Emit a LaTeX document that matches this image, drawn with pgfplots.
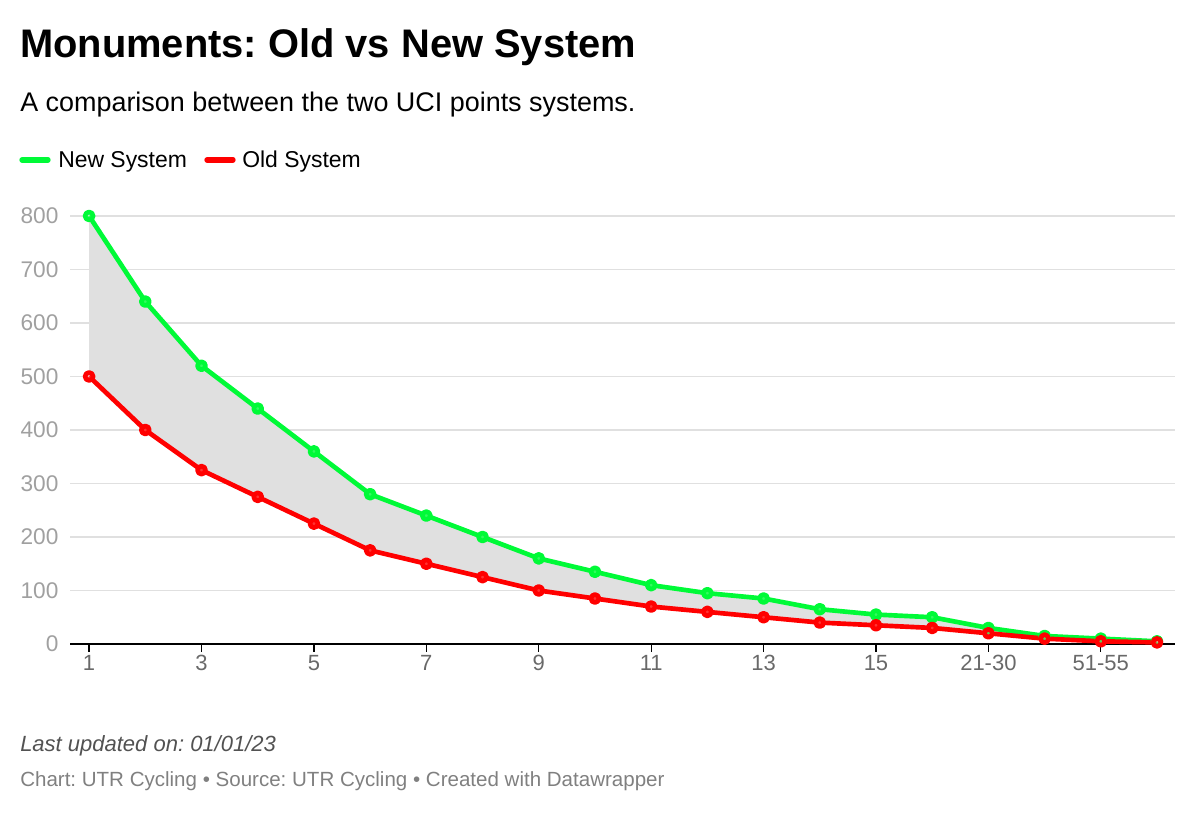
\documentclass[border=0pt]{standalone}
\usepackage{fontspec}
\setmainfont{Liberation Sans}
\usepackage{pgfplots}
\pgfplotsset{compat=1.18}
\usepgfplotslibrary{fillbetween}
\frenchspacing

\definecolor{newc}{RGB}{0,250,55}
\definecolor{oldc}{RGB}{255,0,0}
\definecolor{gridc}{RGB}{224,224,224}
\definecolor{bandc}{RGB}{224,224,224}
\definecolor{ylab}{RGB}{160,160,160}
\definecolor{xlab}{RGB}{105,105,105}

% rank index, new points, old points
\pgfplotstableread{
idx new old
0  800 500
1  640 400
2  520 325
3  440 275
4  360 225
5  280 175
6  240 150
7  200 125
8  160 100
9  135 85
10 110 70
11 95  60
12 85  50
13 65  40
14 55  35
15 50  30
16 30  20
17 15  10
18 10  5
19 5   3
}\pts

\begin{document}
\begin{tikzpicture}
\begin{scope}[x=0.75pt,y=0.75pt]
\path[use as bounding box] (0,0) rectangle (1200,813);

\node[anchor=base west,inner sep=0pt,font=\fontsize{29.9}{34}\selectfont\bfseries] at (20,813-58) {Monuments: Old vs New System};
\node[anchor=base west,inner sep=0pt,font=\fontsize{20.2}{23}\selectfont] at (20,813-112) {A comparison between the two UCI points systems.};

% legend keys
\draw[newc,line width=4pt,line cap=round] (22,813-160) -- (48,813-160);
\node[anchor=base west,inner sep=0pt,font=\fontsize{17.2}{20}\selectfont] at (58,813-168) {New System};
\draw[oldc,line width=4pt,line cap=round] (207,813-160) -- (233,813-160);
\node[anchor=base west,inner sep=0pt,font=\fontsize{17.2}{20}\selectfont] at (242,813-168) {Old System};

\node[anchor=base west,inner sep=0pt,font=\fontsize{16.5}{19}\selectfont\itshape,text=black!68] at (20,813-752) {Last updated on: 01/01/23};
\node[anchor=base west,inner sep=0pt,font=\fontsize{15.4}{18}\selectfont,text=black!50] at (20,813-787) {Chart: UTR Cycling • Source: UTR Cycling • Created with Datawrapper};
\end{scope}

\begin{axis}[
  at={(52.5pt,126.75pt)}, anchor=south west,
  scale only axis, width=828.75pt, height=321pt,
  xmin=-0.34, xmax=19.32, ymin=0, ymax=800,
  axis x line*=bottom, axis y line*=left,
  y axis line style={draw=none},
  x axis line style={black,line width=1.2pt},
  ytick={0,100,...,800},
  ymajorgrids, grid style={gridc,line width=0.9pt},
  ytick style={draw=none},
  yticklabel style={font=\fontsize{17}{19}\selectfont,text=ylab,inner sep=0pt,xshift=-2.5pt},
  xtick={0,2,...,18},
  xticklabels={1,3,5,7,9,11,13,15,21-30,51-55},
  xtick style={black,line width=1pt},
  tick align=outside, major tick length=6pt,
  xticklabel style={font=\fontsize{16.5}{19}\selectfont,text=xlab,yshift=1pt},
  /pgf/number format/assume math mode=true,
  clip=false,
]
\addplot[draw=none,name path=new] table[x=idx,y=new]{\pts};
\addplot[draw=none,name path=old] table[x=idx,y=old]{\pts};
\addplot[bandc,draw=none] fill between[of=new and old];
\addplot[newc,line width=3.5pt,line join=round,mark=*,
  mark options={draw=none,fill=newc!50!white,fill opacity=0.4,scale=1.5}]
  table[x=idx,y=new]{\pts};
\addplot[oldc,line width=3.5pt,line join=round,mark=*,
  mark options={draw=none,fill=oldc!50!white,fill opacity=0.4,scale=1.5}]
  table[x=idx,y=old]{\pts};
\end{axis}
\end{tikzpicture}
\end{document}
